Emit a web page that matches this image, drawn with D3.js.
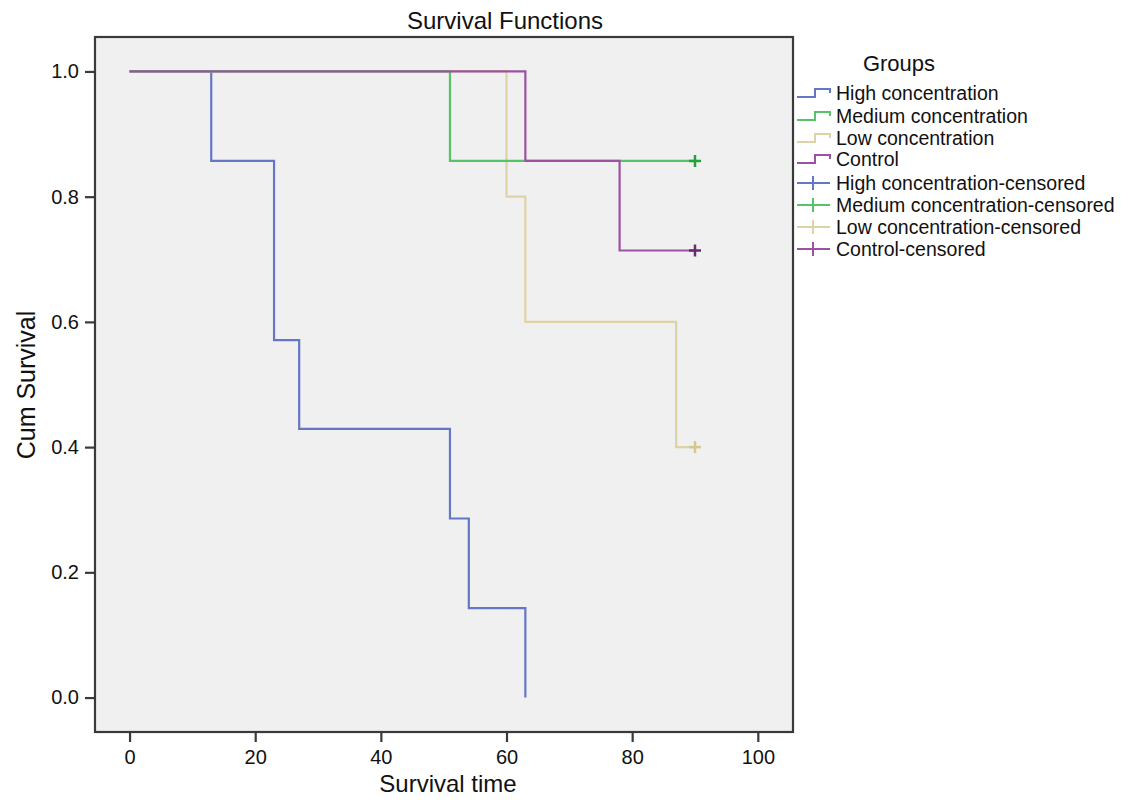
<!DOCTYPE html>
<html><head><meta charset="utf-8">
<script src="https://cdn.jsdelivr.net/npm/d3@7"></script>
<style>body{margin:0;background:#fff;} text{font-family:"Liberation Sans",Arial,sans-serif;fill:#111;}</style>
</head><body>
<svg id="c" width="1126" height="801"></svg>
<script>
const groups = ["High concentration","Medium concentration","Low concentration","Control"];
const colors = ["#6476c6","#55c468","#dcd4a6","#9c52a2"];
const censorColors = ["#3f57b0","#22a23a","#d2c890","#6a2a72"];
// step times and survival values (Kaplan-Meier)
const highTimes = [0,13,23,27,51,54,63];
const highSurv  = [1.0,0.857,0.571,0.429,0.286,0.143,0.0];
const medTimes  = [0,51];
const medSurv   = [1.0,0.857];
const lowTimes  = [0,60,63,87];
const lowSurv   = [1.0,0.8,0.6,0.4];
const ctrlTimes = [0,63,78];
const ctrlSurv  = [1.0,0.857,0.714];
const endTimes  = [63,90,90,90];
const censored  = [null,{t:90,s:0.857},{t:90,s:0.4},{t:90,s:0.714}];
const xTicks = [0,20,40,60,80,100];
const yTicks = [0.0,0.2,0.4,0.6,0.8,1.0];

const svg = d3.select("#c");
const L=95, R=793, T=37, B=732;
const x = d3.scaleLinear().domain([-5.5,105.6]).range([L,R]);
const y = d3.scaleLinear().domain([-0.055,1.055]).range([B,T]);

svg.append("rect").attr("x",L).attr("y",T).attr("width",R-L).attr("height",B-T)
  .attr("fill","#f0f0f0").attr("stroke","none");

const series = [[highTimes,highSurv],[medTimes,medSurv],[lowTimes,lowSurv],[ctrlTimes,ctrlSurv]];
[0,2,1,3].forEach(i=>{
  const [ts,ss]=series[i];
  const pts = ts.map((t,k)=>[t,ss[k]]);
  pts.push([endTimes[i], ss[ss.length-1]]);
  const line = d3.line().x(d=>x(d[0])).y(d=>y(d[1])).curve(d3.curveStepAfter);
  svg.append("path").attr("d",line(pts)).attr("fill","none")
    .attr("stroke",colors[i]).attr("stroke-width",2.2);
});
censored.forEach((c,i)=>{
  if(!c) return;
  const cx=x(c.t), cy=y(c.s);
  const g=svg.append("g").attr("stroke",censorColors[i]).attr("stroke-width",2.5);
  g.append("line").attr("x1",cx-6).attr("x2",cx+6).attr("y1",cy).attr("y2",cy);
  g.append("line").attr("x1",cx).attr("x2",cx).attr("y1",cy-6).attr("y2",cy+6);
});

svg.append("rect").attr("x",L).attr("y",T).attr("width",R-L).attr("height",B-T)
  .attr("fill","none").attr("stroke","#3a3a3a").attr("stroke-width",2.2);

const xa = svg.append("g").attr("transform",`translate(0,${B})`)
  .call(d3.axisBottom(x).tickValues(xTicks).tickSize(10).tickSizeOuter(0).tickPadding(8).tickFormat(d3.format("d")));
xa.select(".domain").remove();
xa.selectAll("line").attr("stroke","#3a3a3a").attr("stroke-width",2.2);
xa.selectAll("text").style("font-size","20px").style("font-family","'Liberation Sans',Arial,sans-serif").attr("fill","#111");

const ya = svg.append("g").attr("transform",`translate(${L},0)`)
  .call(d3.axisLeft(y).tickValues(yTicks).tickSize(10).tickSizeOuter(0).tickPadding(6).tickFormat(d3.format(".1f")));
ya.select(".domain").remove();
ya.selectAll("line").attr("stroke","#3a3a3a").attr("stroke-width",2.2);
ya.selectAll("text").style("font-size","20px").style("font-family","'Liberation Sans',Arial,sans-serif").attr("fill","#111");

svg.append("text").attr("x",505).attr("y",29).attr("text-anchor","middle").style("font-size","24px").text("Survival Functions");
svg.append("text").attr("x",448).attr("y",792).attr("text-anchor","middle").style("font-size","24px").text("Survival time");
svg.append("text").attr("transform","translate(35,385) rotate(-90)").attr("text-anchor","middle").style("font-size","25px").text("Cum Survival");

const lg = svg.append("g");
lg.append("text").attr("x",899).attr("y",71).attr("text-anchor","middle").style("font-size","22px").text("Groups");
const rowY = [93,116,138,159,183,205,227,249];
groups.forEach((g,i)=>{
  const cy=rowY[i];
  lg.append("path").attr("d",`M797,${cy+4}H815V${cy-4}H830V${cy}`).attr("fill","none")
    .attr("stroke",colors[i]).attr("stroke-width",2);
  lg.append("text").attr("x",836).attr("y",cy+7).style("font-size","19.5px").text(g);
});
groups.forEach((g,i)=>{
  const cy=rowY[i+4];
  const gg=lg.append("g").attr("stroke",colors[i]).attr("stroke-width",2);
  gg.append("line").attr("x1",797).attr("x2",830).attr("y1",cy).attr("y2",cy);
  gg.append("line").attr("x1",813).attr("x2",813).attr("y1",cy-7).attr("y2",cy+7);
  lg.append("text").attr("x",836).attr("y",cy+7).style("font-size","19.5px").text(g+"-censored");
});
</script>
</body></html>
